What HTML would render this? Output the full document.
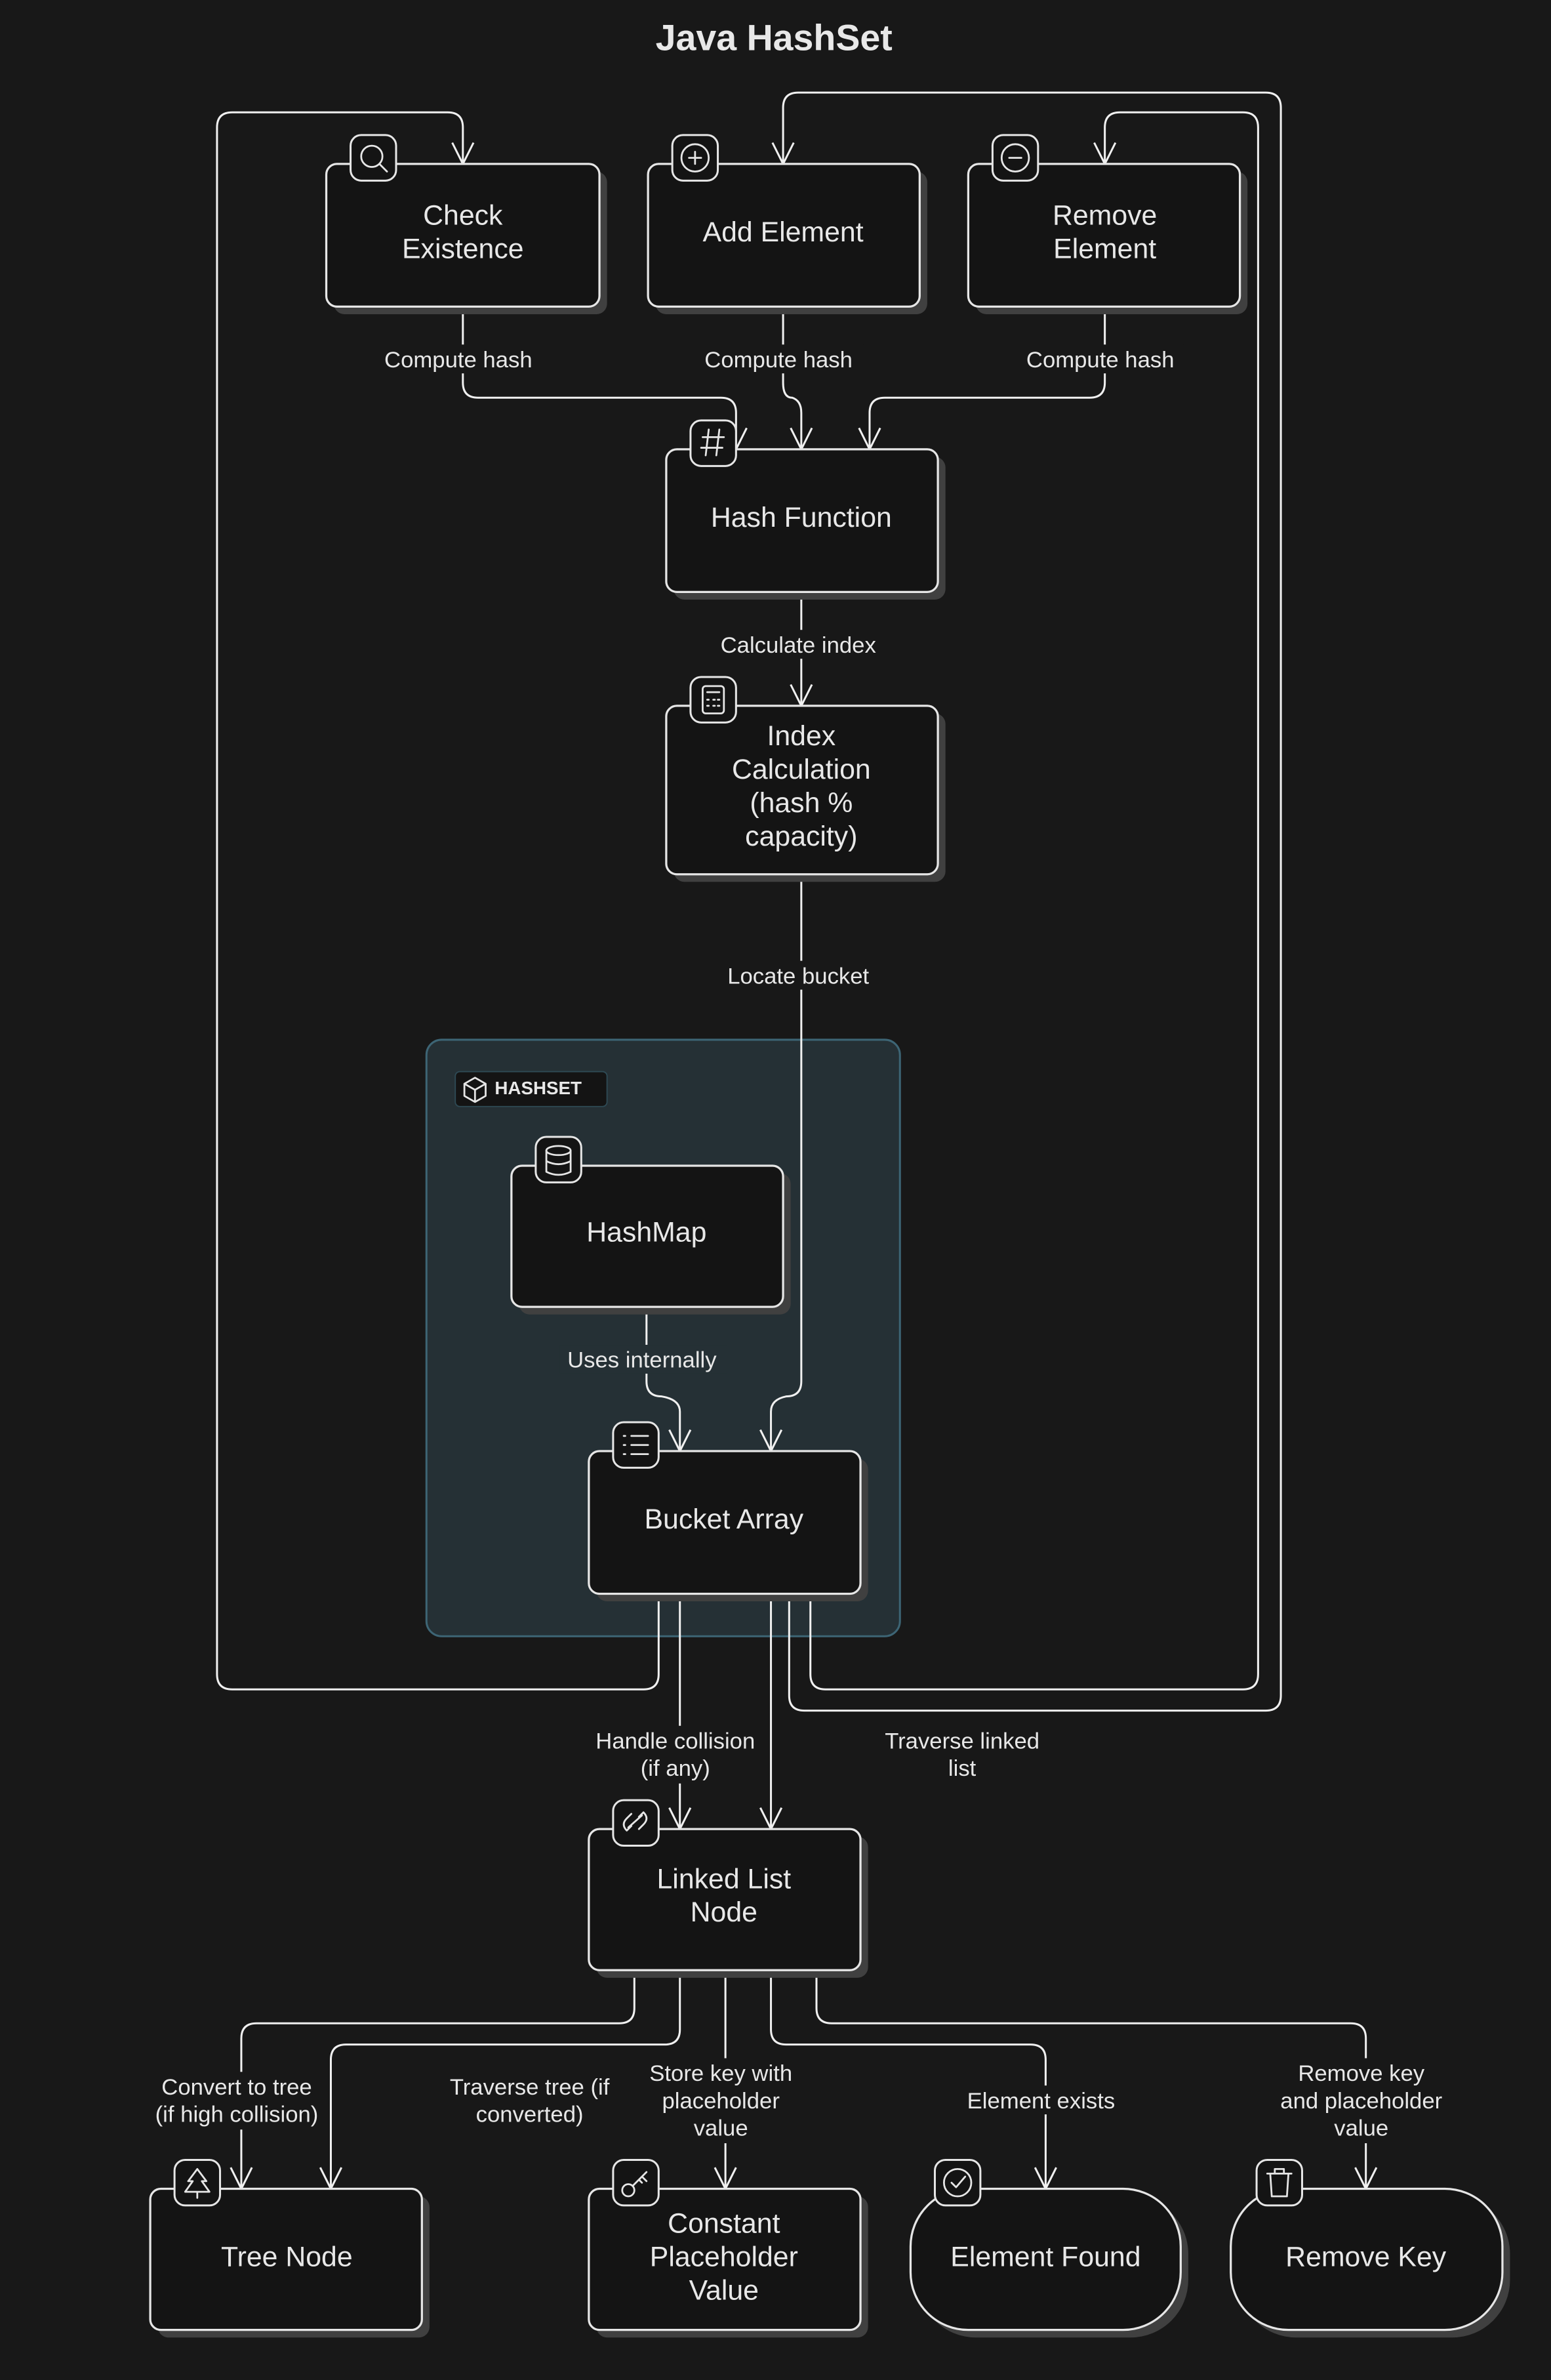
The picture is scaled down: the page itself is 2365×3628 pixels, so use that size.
<!DOCTYPE html>
<html><head><meta charset="utf-8"><style>
html,body{margin:0;padding:0;background:#181818;}
svg{display:block;}
text{font-family:"Liberation Sans",sans-serif;fill:#e8e8e8;}
.n{fill:#141414;stroke:#e6e6e6;stroke-width:1.4;}
.sh{fill:#404040;}
.e{fill:none;stroke:#f0f0f0;stroke-width:1.3;}
.ib{fill:#141414;stroke:#e6e6e6;stroke-width:1.3;}
.ic{fill:none;stroke:#e6e6e6;stroke-width:1.2;stroke-linecap:round;stroke-linejoin:round;}
.nt{font-size:18.5px;text-anchor:middle;}
.lt{font-size:15px;text-anchor:middle;}
.lb{fill:#181818;}
</style></head><body>
<svg width="2365" height="3628" viewBox="0 0 1022 1568" preserveAspectRatio="none" xmlns="http://www.w3.org/2000/svg">
<rect width="1022" height="1568" fill="#181818"/>
<text x="510" y="33" style="font-size:24px;font-weight:bold;text-anchor:middle;">Java HashSet</text>

<!-- group -->
<rect x="281" y="685" width="312" height="393" rx="10" fill="#253035" stroke="#3d6575" stroke-width="1.3"/>
<rect x="300" y="706" width="100" height="23" rx="3" fill="#141414" stroke="#2e4a55" stroke-width="0.8"/>
<g class="ic"><path d="M306 714 L313 710 L320 714 L320 722 L313 726 L306 722 Z M306 714 L313 718 L320 714 M313 718 V726"/></g>
<text x="326" y="721" style="font-size:12px;font-weight:bold;">HASHSET</text>

<!-- edges -->
<g class="e">
<path d="M434 1050 V1103 Q434 1113 424 1113 H153 Q143 1113 143 1103 V84 Q143 74 153 74 H295 Q305 74 305 84 V108"/>
<path d="M520 1050 V1117 Q520 1127 530 1127 H834 Q844 1127 844 1117 V71 Q844 61 834 61 H526 Q516 61 516 71 V108"/>
<path d="M534 1050 V1103 Q534 1113 544 1113 H819 Q829 1113 829 1103 V84 Q829 74 819 74 H738 Q728 74 728 84 V108"/>
<path d="M305 202 V252 Q305 262 315 262 H475 Q485 262 485 272 V296"/>
<path d="M516 202 V252 Q516 262 522 262 Q528 264 528 272 V296"/>
<path d="M728 202 V252 Q728 262 718 262 H583 Q573 262 573 272 V296"/>
<path d="M528 390 V465"/>
<path d="M528 576 V910 Q528 920 518 920 Q508 922 508 930 V956"/>
<path d="M426 861 V910 Q426 920 436 920 Q448 922 448 930 V956"/>
<path d="M448 1050 V1205"/>
<path d="M508 1050 V1205"/>
<path d="M418 1298 V1323 Q418 1333 408 1333 H169 Q159 1333 159 1343 V1442"/>
<path d="M448 1298 V1337 Q448 1347 438 1347 H228 Q218 1347 218 1357 V1442"/>
<path d="M478 1298 V1442"/>
<path d="M508 1298 V1337 Q508 1347 518 1347 H679 Q689 1347 689 1357 V1442"/>
<path d="M538 1298 V1323 Q538 1333 548 1333 H890 Q900 1333 900 1343 V1442"/>
<!-- arrowheads -->
<path d="M298 94 L305 108 L312 94"/>
<path d="M509 94 L516 108 L523 94"/>
<path d="M721 94 L728 108 L735 94"/>
<path d="M478 282 L485 296 L492 282"/>
<path d="M521 282 L528 296 L535 282"/>
<path d="M566 282 L573 296 L580 282"/>
<path d="M521 451 L528 465 L535 451"/>
<path d="M501 942 L508 956 L515 942"/>
<path d="M441 942 L448 956 L455 942"/>
<path d="M441 1191 L448 1205 L455 1191"/>
<path d="M501 1191 L508 1205 L515 1191"/>
<path d="M152 1428 L159 1442 L166 1428"/>
<path d="M211 1428 L218 1442 L225 1428"/>
<path d="M471 1428 L478 1442 L485 1428"/>
<path d="M682 1428 L689 1442 L696 1428"/>
<path d="M893 1428 L900 1442 L907 1428"/>
</g>

<!-- edge labels -->
<rect class="lb" x="248" y="227" width="110" height="19"/><text class="lt" x="302" y="242">Compute hash</text>
<rect class="lb" x="459" y="227" width="110" height="19"/><text class="lt" x="513" y="242">Compute hash</text>
<rect class="lb" x="670" y="227" width="110" height="19"/><text class="lt" x="725" y="242">Compute hash</text>
<rect class="lb" x="469" y="415" width="114" height="19"/><text class="lt" x="526" y="430">Calculate index</text>
<rect class="lb" x="474" y="633" width="104" height="19"/><text class="lt" x="526" y="648">Locate bucket</text>
<rect fill="#253035" x="369" y="886" width="110" height="19"/><text class="lt" x="423" y="901">Uses internally</text>
<rect class="lb" x="386" y="1137" width="118" height="38"/><text class="lt" x="445" y="1152">Handle collision</text><text class="lt" x="445" y="1170">(if any)</text>
<text class="lt" x="634" y="1152">Traverse linked</text><text class="lt" x="634" y="1170">list</text>
<rect class="lb" x="97" y="1365" width="118" height="38"/><text class="lt" x="156" y="1380">Convert to tree</text><text class="lt" x="156" y="1398">(if high collision)</text>
<text class="lt" x="349" y="1380">Traverse tree (if</text><text class="lt" x="349" y="1398">converted)</text>
<rect class="lb" x="422" y="1356" width="106" height="56"/><text class="lt" x="475" y="1371">Store key with</text><text class="lt" x="475" y="1389">placeholder</text><text class="lt" x="475" y="1407">value</text>
<rect class="lb" x="632" y="1374" width="108" height="19"/><text class="lt" x="686" y="1389">Element exists</text>
<rect class="lb" x="836" y="1356" width="122" height="56"/><text class="lt" x="897" y="1371">Remove key</text><text class="lt" x="897" y="1389">and placeholder</text><text class="lt" x="897" y="1407">value</text>

<!-- nodes: shadows -->
<g class="sh">
<rect x="220" y="113" width="180" height="94" rx="7"/>
<rect x="432" y="113" width="179" height="94" rx="7"/>
<rect x="643" y="113" width="179" height="94" rx="7"/>
<rect x="444" y="301" width="179" height="94" rx="7"/>
<rect x="444" y="470" width="179" height="111" rx="7"/>
<rect x="342" y="773" width="179" height="93" rx="7"/>
<rect x="393" y="961" width="179" height="94" rx="7"/>
<rect x="393" y="1210" width="179" height="93" rx="7"/>
<rect x="104" y="1447" width="179" height="93" rx="7"/>
<rect x="393" y="1447" width="179" height="93" rx="7"/>
<rect x="605" y="1447" width="178" height="93" rx="38"/>
<rect x="816" y="1447" width="179" height="93" rx="38"/>
</g>
<g class="n">
<rect x="215" y="108" width="180" height="94" rx="7"/>
<rect x="427" y="108" width="179" height="94" rx="7"/>
<rect x="638" y="108" width="179" height="94" rx="7"/>
<rect x="439" y="296" width="179" height="94" rx="7"/>
<rect x="439" y="465" width="179" height="111" rx="7"/>
<rect x="337" y="768" width="179" height="93" rx="7"/>
<rect x="388" y="956" width="179" height="94" rx="7"/>
<rect x="388" y="1205" width="179" height="93" rx="7"/>
<rect x="99" y="1442" width="179" height="93" rx="7"/>
<rect x="388" y="1442" width="179" height="93" rx="7"/>
<rect x="600" y="1442" width="178" height="93" rx="38"/>
<rect x="811" y="1442" width="179" height="93" rx="38"/>
</g>

<!-- node text -->
<text class="nt" x="305" y="148">Check</text><text class="nt" x="305" y="170">Existence</text>
<text class="nt" x="516" y="159">Add Element</text>
<text class="nt" x="728" y="148">Remove</text><text class="nt" x="728" y="170">Element</text>
<text class="nt" x="528" y="347">Hash Function</text>
<text class="nt" x="528" y="491">Index</text><text class="nt" x="528" y="513">Calculation</text><text class="nt" x="528" y="535">(hash %</text><text class="nt" x="528" y="557">capacity)</text>
<text class="nt" x="426" y="818">HashMap</text>
<text class="nt" x="477" y="1007">Bucket Array</text>
<text class="nt" x="477" y="1244">Linked List</text><text class="nt" x="477" y="1266">Node</text>
<text class="nt" x="189" y="1493">Tree Node</text>
<text class="nt" x="477" y="1471">Constant</text><text class="nt" x="477" y="1493">Placeholder</text><text class="nt" x="477" y="1515">Value</text>
<text class="nt" x="689" y="1493">Element Found</text>
<text class="nt" x="900" y="1493">Remove Key</text>

<!-- icon boxes -->
<g class="ib">
<rect x="231" y="89" width="30" height="30" rx="7"/>
<rect x="443" y="89" width="30" height="30" rx="7"/>
<rect x="654" y="89" width="30" height="30" rx="7"/>
<rect x="455" y="277" width="30" height="30" rx="7"/>
<rect x="455" y="446" width="30" height="30" rx="7"/>
<rect x="353" y="749" width="30" height="30" rx="7"/>
<rect x="404" y="937" width="30" height="30" rx="7"/>
<rect x="404" y="1186" width="30" height="30" rx="7"/>
<rect x="115" y="1423" width="30" height="30" rx="7"/>
<rect x="404" y="1423" width="30" height="30" rx="7"/>
<rect x="616" y="1423" width="30" height="30" rx="7"/>
<rect x="828" y="1423" width="30" height="30" rx="7"/>
</g>
<g class="ic">
<circle cx="245" cy="103" r="7"/><path d="M250 108 L255 113"/>
<circle cx="458" cy="104" r="9"/><path d="M454 104 H462 M458 100 V108"/>
<circle cx="669" cy="104" r="9"/><path d="M665 104 H673"/>
<path d="M463 288 H477 M462 295 H476 M467 283 L465 300 M474 283 L472 300"/>
<rect x="463" y="452" width="14" height="18" rx="2"/><path d="M466 456 H474 M466 461 H467 M470 461 H471 M473 461 H474 M466 465 H467 M470 465 H471 M473 465 H474"/>
<ellipse cx="368" cy="758" rx="8" ry="3"/><path d="M360 758 V772 Q368 776 376 772 V758 M360 765 Q368 769 376 765"/>
<path d="M411 946 H412 M416 946 H427 M411 952 H412 M416 952 H427 M411 958 H412 M416 958 H427"/>
<path d="M416 1203 L413 1206 Q409 1202 413 1198 L416 1195 M421 1197 L424 1194 Q428 1198 424 1202 L421 1205 M414 1204 L423 1196"/>
<path d="M130 1429 L124 1437 H127 L122 1444 H138 L133 1437 H136 Z M130 1444 V1448"/>
<circle cx="414" cy="1443" r="4"/><path d="M417 1440 L426 1431 M423 1434 L426 1437 M421 1436 L423 1438"/>
<circle cx="631" cy="1438" r="9"/><path d="M627 1438 L630 1441 L636 1434"/>
<path d="M835 1432 H851 M840 1432 V1429 H846 V1432 M837 1432 L838 1447 H848 L849 1432"/>
</g>
</svg>
</body></html>
